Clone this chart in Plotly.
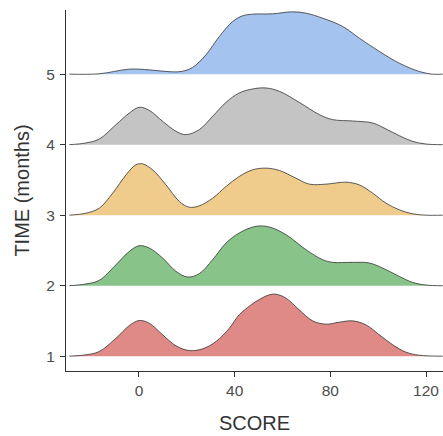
import plotly.graph_objects as go

# Ridge positions (TIME in months) and fill colours
times = [1, 2, 3, 4, 5]
colors = ["#E08A88", "#88C38A", "#EFCC8B", "#C4C4C4", "#A4C3EE"]

# Ridge outlines: SCORE values and ridge heights (in y-axis units)
x1 = [-29.1, -22.2, -16.6, -9.6, -4.0, 0.1, 4.3, 9.9, 15.5, 21.0, 26.6, 32.2, 37.8, 41.9, 48.9,
      54.5, 57.3, 61.5, 67.0, 72.6, 78.2, 83.7, 89.3, 94.9, 100.5, 106.1, 111.6, 117.2, 127.0]
h1 = [0, 0.019, 0.066, 0.255, 0.435, 0.506, 0.468, 0.303, 0.147, 0.080, 0.104, 0.208, 0.397, 0.586,
      0.775, 0.870, 0.879, 0.823, 0.657, 0.501, 0.454, 0.482, 0.501, 0.444, 0.303, 0.161, 0.057, 0.014, 0]

x2 = [-29.1, -22.2, -16.6, -9.6, -4.0, 0.1, 4.3, 9.9, 15.5, 20.3, 25.2, 30.8, 36.4, 41.9, 48.9,
      54.5, 61.5, 69.8, 76.8, 81.0, 89.3, 96.3, 103.3, 108.8, 114.4, 120.0, 127.0]
h2 = [0, 0.024, 0.076, 0.298, 0.487, 0.567, 0.534, 0.392, 0.203, 0.123, 0.170, 0.369, 0.605, 0.747,
      0.842, 0.832, 0.723, 0.511, 0.369, 0.331, 0.331, 0.322, 0.227, 0.132, 0.047, 0.009, 0]

x3 = [-29.1, -22.2, -16.6, -11.0, -5.4, -1.3, 1.5, 5.7, 11.3, 16.9, 21.0, 25.2, 30.8, 36.4, 41.9,
      47.5, 53.1, 58.7, 65.6, 71.2, 78.2, 86.5, 92.1, 97.7, 103.3, 108.8, 114.4, 120.0, 127.0]
h3 = [0, 0.028, 0.099, 0.312, 0.572, 0.714, 0.728, 0.643, 0.430, 0.194, 0.113, 0.132, 0.241, 0.407,
      0.548, 0.643, 0.667, 0.634, 0.525, 0.440, 0.440, 0.468, 0.430, 0.312, 0.170, 0.076, 0.019, 0, 0]

x4 = [-29.1, -22.2, -16.6, -9.6, -4.0, 0.1, 4.3, 9.9, 15.5, 19.6, 25.2, 30.8, 36.4, 41.9, 47.5,
      53.1, 58.7, 67.0, 75.4, 81.0, 89.3, 97.7, 103.3, 108.8, 114.4, 120.0, 127.0]
h4 = [0, 0.024, 0.080, 0.284, 0.449, 0.530, 0.487, 0.331, 0.189, 0.142, 0.213, 0.402, 0.600, 0.733,
      0.790, 0.804, 0.757, 0.600, 0.426, 0.355, 0.336, 0.307, 0.222, 0.128, 0.047, 0.009, 0]

x5 = [-29.1, -16.6, -4.0, 4.3, 11.3, 17.6, 22.4, 28.0, 33.6, 39.2, 43.3, 47.5, 55.9, 64.2, 69.8,
      76.8, 85.2, 92.1, 100.5, 108.8, 117.2, 122.8, 127.0]
h5 = [0, 0.005, 0.071, 0.061, 0.038, 0.038, 0.095, 0.274, 0.534, 0.747, 0.827, 0.851, 0.856, 0.884,
      0.865, 0.794, 0.676, 0.511, 0.322, 0.156, 0.038, 0, 0]

xs = [x1, x2, x3, x4, x5]
hs = [h1, h2, h3, h4, h5]

x_ticks = [0, 40, 80, 120]
y_ticks = [1, 2, 3, 4, 5]

fig = go.Figure()
# draw top ridge first so lower ridges sit on top
for t, col, xv, hv in reversed(list(zip(times, colors, xs, hs))):
    fig.add_trace(go.Scatter(x=xv, y=[t] * len(xv), mode="lines",
                             line=dict(width=0, color=col), hoverinfo="skip", showlegend=False))
    fig.add_trace(go.Scatter(x=xv, y=[t + v for v in hv], mode="lines", fill="tonexty",
                             fillcolor=col, line=dict(color="#333333", width=0.8, shape="spline", smoothing=1.0),
                             showlegend=False))

font_family = "Liberation Sans, Arial, sans-serif"
fig.update_layout(
    width=443, height=436,
    margin=dict(l=66, r=0, t=10, b=65),
    plot_bgcolor="white", paper_bgcolor="white",
    font=dict(family=font_family, color="#4D4D4D"),
    xaxis=dict(range=[-30.5, 127.1], tickvals=x_ticks, ticks="outside", ticklen=5, tickwidth=1,
               tickcolor="#333333", showline=True, linecolor="#333333", linewidth=1,
               showgrid=False, zeroline=False, tickfont=dict(size=15.5, color="#4D4D4D"),
               title=dict(text="SCORE", font=dict(size=20, color="#333333"), standoff=18)),
    yaxis=dict(range=[0.79, 5.91], tickvals=y_ticks, ticks="outside", ticklen=5, tickwidth=1,
               tickcolor="#333333", showline=True, linecolor="#333333", linewidth=1,
               showgrid=False, zeroline=False, tickfont=dict(size=15.5, color="#4D4D4D"),
               ticklabelstandoff=2,
               title=dict(text="TIME (months)", font=dict(size=20, color="#333333"), standoff=11)),
)

fig.write_html("out.html")
